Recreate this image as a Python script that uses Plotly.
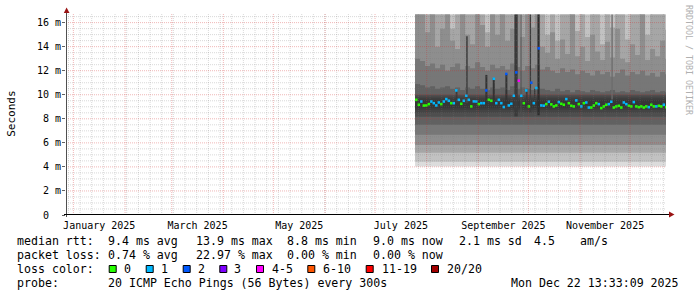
import pandas as pd
import plotly.graph_objects as go

# ---------------- data ----------------
range_start = "2024-12-27 13:33:09"
range_end = "2025-12-22 13:33:09"
data_start = "2025-07-25 00:00"

# median rtt (ms) per 36 h bucket and lost pings (of 20) per bucket
median_ms = [
    9.58, 9.17, 9.44, 9.10, 9.11, 9.22, 9.44, 9.30, 9.11, 9.36,
    9.22, 9.44, 9.64, 9.50, 9.30, 9.30, 10.36, 9.58, 9.25, 9.50,
    9.92, 9.58, 9.03, 9.45, 9.44, 9.22, 9.30, 9.30, 10.36, 9.58,
    9.50, 11.33, 9.30, 9.58, 9.30, 8.98, 11.73, 9.11, 9.25, 9.92,
    11.86, 11.17, 9.92, 9.30, 10.36, 9.03, 11.00, 9.30, 10.56, 13.86,
    9.11, 9.09, 9.22, 9.42, 9.20, 9.03, 9.11, 9.39, 9.25, 9.17,
    9.64, 9.30, 9.08, 9.03, 9.53, 9.22, 9.03, 9.30, 9.36, 8.94,
    8.94, 9.10, 9.30, 9.22, 8.89, 9.03, 9.17, 9.22, 9.42, 8.94,
    9.03, 9.08, 8.94, 9.36, 9.22, 9.08, 9.03, 9.39, 9.03, 8.97,
    9.03, 8.94, 9.03, 8.97, 9.17, 9.03, 9.03, 9.08, 9.03, 9.17,
    8.97,
]
loss_pings = [
    0, 0, 1, 0, 0, 0, 1, 1, 1, 1,
    0, 1, 1, 1, 0, 1, 1, 1, 0, 1,
    1, 1, 0, 1, 1, 0, 1, 1, 2, 0,
    0, 1, 1, 1, 1, 1, 2, 1, 1, 1,
    2, 4, 1, 0, 1, 0, 2, 1, 1, 2,
    1, 1, 0, 1, 0, 0, 0, 1, 0, 0,
    1, 0, 0, 0, 1, 0, 1, 0, 1, 1,
    0, 0, 0, 1, 0, 0, 0, 1, 1, 0,
    0, 0, 0, 1, 1, 0, 0, 1, 0, 0,
    0, 0, 0, 1, 0, 0, 1, 0, 0, 1,
    0,
]

# smoke bands (outer -> inner), lower edges in ms
band_low_ms = [4.03, 4.42, 5.17, 5.83, 6.67, 7.50, 8.17, 8.50, 8.75, 8.90]
band_colors = ["#dcdcdc", "#c2c2c2", "#a6a6a6", "#8e8e8e", "#777777",
               "#616161", "#4e4e4e", "#444444", "#3c3c3c", "#363636"]
# upper edges, 3-day buckets
band0_top_ms = [16.67] * 51
band1_top_ms = [16.67] * 51
band2_top_ms = [
    16.67, 16.67, 16.67, 16.67, 16.67, 16.67, 16.67, 15.5, 16.67, 16.67,
    16.67, 16.67, 16.67, 16.67, 15.2, 16.67, 16.67, 16.67, 16.67, 16.67,
    16.67, 16.67, 16.67, 16.67, 16.67, 16.67, 15.0, 16.67, 14.5, 16.67,
    16.67, 16.67, 15.3, 16.67, 14.8, 16.67, 16.67, 14.2, 16.67, 15.6,
    16.67, 16.67, 14.6, 16.67, 16.67, 16.67, 15.0, 16.67, 16.67, 16.67, 15.4]
band3_top_ms = [
    16.67, 16.67, 15.2, 16.67, 14.0, 15.5, 16.67, 14.5, 13.8, 16.67,
    15.0, 14.2, 16.67, 15.8, 14.0, 16.67, 15.0, 16.67, 14.5, 15.5,
    16.67, 14.8, 16.67, 15.6, 16.67, 14.0, 13.5, 15.2, 13.0, 14.6,
    13.4, 16.67, 13.2, 14.0, 12.8, 15.0, 13.6, 12.9, 14.4, 13.1,
    15.5, 13.0, 12.7, 14.2, 13.3, 16.67, 12.9, 13.8, 13.2, 14.5, 13.0]
band4_top_ms = [
    13.0, 12.8, 12.4, 12.6, 12.2, 12.5, 12.0, 12.3, 12.6, 12.1,
    12.4, 12.2, 12.7, 12.3, 12.0, 12.5, 12.2, 12.4, 12.1, 12.6,
    12.3, 12.0, 12.4, 12.2, 12.5, 12.1, 12.3, 12.0, 11.8, 12.2,
    11.9, 12.1, 11.7, 12.0, 11.8, 11.6, 12.0, 11.7, 11.9, 11.5,
    11.8, 12.1, 11.6, 11.9, 11.7, 12.0, 11.6, 11.8, 11.5, 11.9, 11.7]
band5_top_ms = [
    10.9, 10.8, 10.6, 10.7, 10.5, 10.6, 10.7, 10.5, 10.6, 10.4,
    10.6, 10.5, 10.7, 10.5, 10.4, 10.6, 10.5, 10.6, 10.4, 10.7,
    10.5, 10.6, 10.5, 10.4, 10.6, 10.5, 10.4, 10.3, 10.5, 10.3,
    10.4, 10.2, 10.4, 10.3, 10.2, 10.4, 10.3, 10.2, 10.3, 10.4,
    10.2, 10.3, 10.2, 10.4, 10.3, 10.2, 10.3, 10.4, 10.2, 10.3, 10.2]
band6_top_ms = [10.0] * 51
band7_top_ms = [9.85] * 51
band8_top_ms = [9.7] * 51
band9_top_ms = [9.55] * 51

# short-lived latency spikes visible in the smoke
spike_times = ["2025-08-18 22:00", "2025-08-25 03:00", "2025-09-05 19:00",
               "2025-09-10 05:00", "2025-09-17 19:00", "2025-09-23 14:00",
               "2025-09-26 14:00", "2025-09-30 00:00", "2025-10-02 05:00",
               "2025-10-04 19:00", "2025-10-07 02:00", "2025-11-20 05:00"]
spike_base_ms = [9.3, 9.3, 9.3, 9.3, 9.3, 8.2, 8.5, 9.3, 8.5, 9.3, 8.3, 9.6]
spike_top_ms = [10.4, 14.86, 11.65, 11.4, 11.73, 16.67, 16.67, 10.5, 16.67, 10.5, 16.67, 16.67]
spike_width_days = [1.0, 1.0, 1.2, 1.2, 1.2, 2.0, 0.6, 1.0, 0.8, 0.8, 1.3, 0.8]
spike_colors = ["#3a3a3a", "#444444", "#333333", "#333333", "#333333", "#3a3a3a",
                "#505050", "#3a3a3a", "#3c3c3c", "#3a3a3a", "#2c2c2c", "#6c6c6c"]

loss_labels = ["0", "1", "2", "3", "4-5", "6-10", "11-19", "20/20"]
loss_colors = ["#26ff00", "#00b8ff", "#0059ff", "#7e00ff", "#ff00ff",
               "#ff5500", "#ff0000", "#a10000"]
loss_upper = [0, 1, 2, 3, 5, 10, 19, 20]

y_tick_vals = [0, 2, 4, 6, 8, 10, 12, 14, 16]
y_tick_text = ["0\u00a0\u00a0", "2\u00a0m", "4\u00a0m", "6\u00a0m", "8\u00a0m",
               "10\u00a0m", "12\u00a0m", "14\u00a0m", "16\u00a0m"]
x_label_months = ["2025-01", "2025-03", "2025-05", "2025-07", "2025-09", "2025-11"]
x_tick_text = ["January 2025", "March 2025", "May 2025", "July 2025",
               "September 2025", "November 2025"]

rtt_label = "median rtt:"
rtt_stats = ["9.4 ms avg", "13.9 ms max", "8.8 ms min", "9.0 ms now", "2.1 ms sd", "4.5", "am/s"]
loss_label = "packet loss:"
loss_stats = ["0.74 % avg", "22.97 % max", "0.00 % min", "0.00 % now"]
color_label = "loss color:"
probe_label = "probe:"
probe_text = "20 ICMP Echo Pings (56 Bytes) every 300s"
stamp_text = "Mon Dec 22 13:33:09 2025"
y_title = "Seconds"
watermark = "RRDTOOL / TOBI OETIKER"

# ---------------- layout helpers ----------------
W, H = 697, 297
L, R, T, B = 66, 666, 13, 215
def px(x):
    return (x - L) / (R - L)
def py(y):
    return (B - y) / (B - T)

MONO = "DejaVu Sans Mono"
fig = go.Figure()

# smoke
smoke_t = list(pd.date_range(data_start, periods=51, freq="3D")) + [pd.Timestamp(range_end)]
band_tops = [band0_top_ms, band1_top_ms, band2_top_ms, band3_top_ms, band4_top_ms,
             band5_top_ms, band6_top_ms, band7_top_ms, band8_top_ms, band9_top_ms]
for k in range(10):
    top = band_tops[k] + [band_tops[k][-1]]
    low = [band_low_ms[k]] * len(top)
    fig.add_trace(go.Scatter(x=smoke_t, y=low, mode="lines",
                             line=dict(width=0, shape="hv"), hoverinfo="skip", showlegend=False))
    fig.add_trace(go.Scatter(x=smoke_t, y=top, mode="lines", fill="tonexty",
                             fillcolor=band_colors[k],
                             line=dict(width=0, shape="hv"), hoverinfo="skip", showlegend=False))

# spikes (filled rectangles built from the spike arrays)
for t, b, top, wd, col in zip(pd.to_datetime(spike_times), spike_base_ms, spike_top_ms,
                              spike_width_days, spike_colors):
    half = pd.Timedelta(days=wd / 2)
    fig.add_trace(go.Scatter(x=[t - half, t + half, t + half, t - half, t - half],
                             y=[b, b, top, top, b], mode="lines", fill="toself",
                             fillcolor=col, line=dict(width=0),
                             hoverinfo="skip", showlegend=False))

# median, coloured by loss
med_t = pd.date_range(data_start, periods=len(median_ms), freq="36h")
step = pd.Timedelta(hours=36)
def loss_index(n):
    for i, u in enumerate(loss_upper):
        if n <= u:
            return i
    return len(loss_upper) - 1
for li in range(len(loss_labels)):
    xs, ys = [], []
    for t, v, n in zip(med_t, median_ms, loss_pings):
        if loss_index(n) == li:
            xs += [t, t + step, None]
            ys += [v, v, None]
    if xs:
        fig.add_trace(go.Scatter(x=xs, y=ys, mode="lines",
                                 line=dict(color=loss_colors[li], width=2.6),
                                 hoverinfo="skip", showlegend=False))

shapes = []
# grid (above smoke, like rrdtool)
minor_col = "rgba(120,120,120,0.28)"
major_col = "rgba(210,40,40,0.33)"
for d in pd.date_range("2024-12-29", range_end, freq="7D"):
    shapes.append(dict(type="line", xref="x", yref="paper", x0=d, x1=d, y0=0, y1=1,
                       line=dict(color=minor_col, width=1, dash="1px,1px"), layer="above"))
for d in pd.date_range("2025-01-01", "2025-12-01", freq="MS"):
    shapes.append(dict(type="line", xref="x", yref="paper", x0=d, x1=d, y0=0, y1=1,
                       line=dict(color=major_col, width=1, dash="1px,1px"), layer="above"))
for i in range(1, 34):
    v = i * 0.5
    if v % 2 == 0:
        continue
    shapes.append(dict(type="line", xref="paper", yref="y", x0=0, x1=1, y0=v, y1=v,
                       line=dict(color=minor_col, width=1, dash="1px,1px"), layer="above"))
for v in y_tick_vals[1:]:
    shapes.append(dict(type="line", xref="paper", yref="y", x0=0, x1=1, y0=v, y1=v,
                       line=dict(color=major_col, width=1, dash="1px,1px"), layer="above"))

# axes lines and arrows
shapes.append(dict(type="line", xref="paper", yref="paper", x0=px(66.5), x1=px(66.5),
                   y0=py(217), y1=py(11), line=dict(color="#505050", width=1), layer="above"))
shapes.append(dict(type="line", xref="paper", yref="paper", x0=px(64), x1=px(670),
                   y0=py(214.5), y1=py(214.5), line=dict(color="#000000", width=1), layer="above"))
shapes.append(dict(type="path", xref="paper", yref="paper",
                   path=f"M {px(63.8)} {py(13)} L {px(69.5)} {py(13)} L {px(66.6)} {py(7.5)} Z",
                   fillcolor="#9a1414", line=dict(width=0), layer="above"))
shapes.append(dict(type="path", xref="paper", yref="paper",
                   path=f"M {px(669)} {py(211.5)} L {px(669)} {py(217.5)} L {px(674.5)} {py(214.5)} Z",
                   fillcolor="#9a1414", line=dict(width=0), layer="above"))

# legend swatches
box_x = [108.7, 145.7, 182.7, 219.3, 256.0, 307.3, 365.7, 431.0]
lab_x = [123.3, 160.3, 196.7, 233.3, 270.7, 321.7, 380.7, 445.7]
for bx, col in zip(box_x, loss_colors):
    shapes.append(dict(type="rect", xref="paper", yref="paper",
                       x0=px(bx + 0.5), x1=px(bx + 7.5), y0=py(272.5), y1=py(265.5),
                       fillcolor=col, line=dict(color="#000000", width=1)))

ann = []
def text(x, y, s, size=11.6, anchor="left", color="#000000", angle=0, family=MONO):
    ann.append(dict(x=px(x), y=py(y), xref="paper", yref="paper", text=s, showarrow=False,
                    xanchor=anchor, yanchor="middle", borderpad=0, textangle=angle,
                    font=dict(family=family, size=size, color=color)))

rows_y = [241, 255, 268.5, 282.5]
text(16, rows_y[0], rtt_label)
for x, s in zip([107, 195, 286, 372, 458, 533, 579], rtt_stats):
    text(x, rows_y[0], s)
text(16, rows_y[1], loss_label)
for x, s in zip([107, 195, 286, 372], loss_stats):
    text(x, rows_y[1], s)
text(16, rows_y[2], color_label)
for x, s in zip(lab_x, loss_labels):
    text(x, rows_y[2], s)
text(16, rows_y[3], probe_label)
text(107, rows_y[3], probe_text)
text(680, rows_y[3], stamp_text, anchor="right")

ann.append(dict(x=px(10.8), y=py(114), xref="paper", yref="paper", text=y_title, showarrow=False,
                xanchor="center", yanchor="middle", textangle=-90,
                font=dict(family=MONO, size=11, color="#000000")))
ann.append(dict(x=px(689), y=py(60), xref="paper", yref="paper", text=watermark, showarrow=False,
                xanchor="center", yanchor="middle", textangle=90,
                font=dict(family=MONO, size=8.3, color="#b0b0b0")))

month_starts = pd.to_datetime([m + "-01" for m in x_label_months])
x_tick_vals = [s + (s + pd.offsets.MonthBegin(1) - s) / 2 for s in month_starts]

fig.update_layout(
    width=W, height=H,
    margin=dict(l=L, r=W - R, t=T, b=H - B, pad=0),
    paper_bgcolor="#ffffff", plot_bgcolor="#ffffff",
    showlegend=False,
    shapes=shapes, annotations=ann,
    xaxis=dict(type="date", range=[range_start, range_end], showgrid=False, zeroline=False,
               showline=False, tickmode="array", tickvals=x_tick_vals, ticktext=x_tick_text,
               ticks="", ticklabelstandoff=3,
               tickfont=dict(family=MONO, size=10, color="#000000"),
               fixedrange=True),
    yaxis=dict(range=[0, 16.8], showgrid=False, zeroline=False, showline=False,
               tickmode="array", tickvals=y_tick_vals, ticktext=y_tick_text,
               ticks="outside", ticklen=3, tickcolor="#606060", ticklabelstandoff=-1,
               tickfont=dict(family=MONO, size=10, color="#000000"), fixedrange=True),
)

fig.write_html("out.html", config={"displayModeBar": False})
